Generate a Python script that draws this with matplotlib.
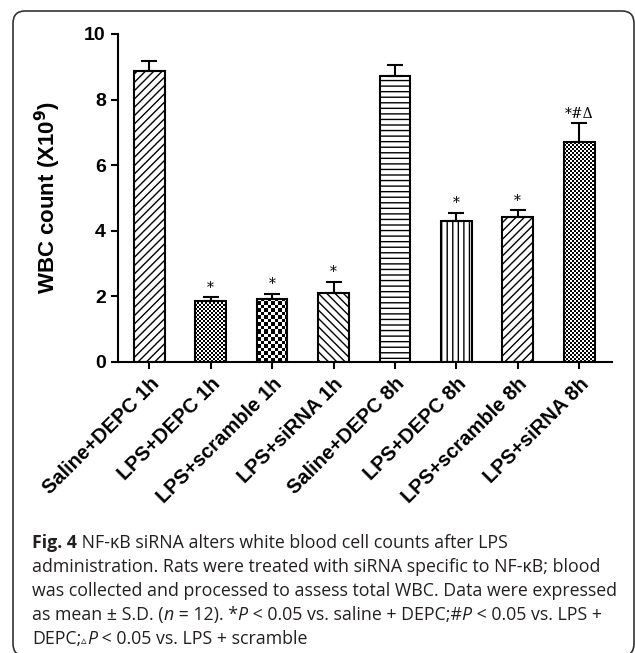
import matplotlib
matplotlib.use("Agg")
import matplotlib.pyplot as plt
import numpy as np
from matplotlib.patches import FancyBboxPatch

# Data
groups = ["Saline+DEPC 1h", "LPS+DEPC 1h", "LPS+scramble 1h", "LPS+siRNA 1h",
          "Saline+DEPC 8h", "LPS+DEPC 8h", "LPS+scramble 8h", "LPS+siRNA 8h"]
wbc_mean = [8.87, 1.85, 1.90, 2.10, 8.72, 4.28, 4.43, 6.70]
wbc_sd = [0.31, 0.12, 0.17, 0.34, 0.34, 0.26, 0.19, 0.57]
marks = ["", "*", "*", "*", "", "*", "*", "*#\u0394"]
# hatch pattern per bar; "checker:N" means checkerboard with N-pixel cells
patterns = ["////", "checker:2", "checker:3.5", "\\\\\\\\",
            "---", "|||", "////", "checker:2"]
y_ticks = [0, 2, 4, 6, 8, 10]

caption_lines = [
    [("Fig. 4", "bold"), (" NF-\u03baB siRNA alters white blood cell counts after LPS", "normal")],
    [("administration. Rats were treated with siRNA specific to NF-\u03baB; blood", "normal")],
    [("was collected and processed to assess total WBC. Data were expressed", "normal")],
    [("as mean \u00b1 S.D. (", "normal"), ("n", "italic"), (" = 12). *", "normal"), ("P", "italic"),
     (" < 0.05 vs. saline + DEPC;#", "normal"), ("P", "italic"), (" < 0.05 vs. LPS +", "normal")],
    [("DEPC;", "normal"), ("\u25b5", "tri"), ("P", "italic"), (" < 0.05 vs. LPS + scramble", "normal")],
]

plt.rcParams["hatch.linewidth"] = 1.0
plt.rcParams["font.family"] = ["Liberation Sans", "DejaVu Sans"]

W, H = 635, 653
fig = plt.figure(figsize=(W / 100, H / 100), dpi=100)
ax = fig.add_axes([118.3 / W, 1 - 361.7 / H, (611.7 - 118.3) / W, (361.7 - 34) / H])

x = np.arange(len(groups))
ax.set_xlim(-0.505, 7.53)
ax.set_ylim(0, 10)

bars = ax.bar(x, wbc_mean, width=0.5, color="white", edgecolor="black", linewidth=1.5, zorder=2)
for b, p in zip(bars, patterns):
    if p.startswith("checker"):
        b.set_facecolor("none")
    else:
        b.set_hatch(p)

# checkerboard fills, clipped to the bar shapes
for b, p in zip(bars, patterns):
    if not p.startswith("checker"):
        continue
    cell = float(p.split(":")[1])
    x0, y0 = b.get_x(), 0
    x1, y1 = b.get_x() + b.get_width(), b.get_height()
    (px0, py0), (px1, py1) = ax.transData.transform([(x0, y0), (x1, y1)])
    nw, nh = int(round(px1 - px0)), int(round(py1 - py0))
    jj, ii = np.meshgrid(np.arange(nw), np.arange(nh))
    board = ((np.floor(jj / cell) + np.floor(ii / cell)) % 2).astype(float)
    im = ax.imshow(board, cmap="gray", extent=(x0, x1, y0, y1), aspect="auto",
                   interpolation="nearest", origin="lower", vmin=0, vmax=1, zorder=1)
    im.set_clip_path(b)

ax.errorbar(x, wbc_mean, yerr=[np.zeros(len(x)), wbc_sd], fmt="none", ecolor="black",
            elinewidth=1.5, capsize=5.5, capthick=1.5, zorder=3)

for xi, m, s, t in zip(x, wbc_mean, wbc_sd, marks):
    if t:
        ax.text(xi, m + s + 0.08, t, ha="center", va="bottom", fontsize=10,
                family=["DejaVu Serif"], zorder=4)

ax.set_xlim(-0.505, 7.53)
ax.set_ylim(0, 10)
ax.set_yticks(y_ticks)
ax.set_yticklabels([str(t) for t in y_ticks], fontsize=14, fontweight="bold")
ax.set_xticks(x)
ax.set_xticklabels(groups, rotation=45, ha="right", rotation_mode="anchor",
                   fontsize=14.5, fontweight="bold")
ax.tick_params(axis="both", direction="out", length=5, width=1.5, pad=4)
ax.spines["top"].set_visible(False)
ax.spines["right"].set_visible(False)
ax.spines["left"].set_linewidth(1.5)
ax.spines["bottom"].set_linewidth(1.5)
ax.set_ylabel("WBC count (X10$^\\mathbf{9}$)", fontsize=16, fontweight="bold", labelpad=15)

# caption
renderer = fig.canvas.get_renderer()
cap_color = "#231f20"
line_y = [548, 572, 596, 620, 644]
for runs, ly in zip(caption_lines, line_y):
    cx = 32
    for s, style in runs:
        kw = dict(fontsize=12.8, color=cap_color, family=["Open Sans", "DejaVu Sans"])
        if style == "bold":
            kw["fontweight"] = "bold"
        elif style == "italic":
            kw["fontstyle"] = "italic"
        elif style == "tri":
            kw["fontsize"] = 8
            kw["family"] = ["DejaVu Sans"]
        t = fig.text(cx / W, 1 - ly / H, s, ha="left", va="baseline", **kw)
        bb = t.get_window_extent(renderer)
        cx += bb.width

# rounded frame around the figure, cut by the image edges at right and bottom
fx0, fy_top, fx1, fy_bot = 13 / W, 1 - 11 / H, 634 / W, -3 / H
frame = FancyBboxPatch((fx0, fy_bot), fx1 - fx0, fy_top - fy_bot,
                       boxstyle="round,pad=0,rounding_size=0.019", transform=fig.transFigure,
                       fill=False, edgecolor="#333333", linewidth=1.2, clip_on=False)
fig.patches.append(frame)

fig.savefig("out.png", dpi=100)
